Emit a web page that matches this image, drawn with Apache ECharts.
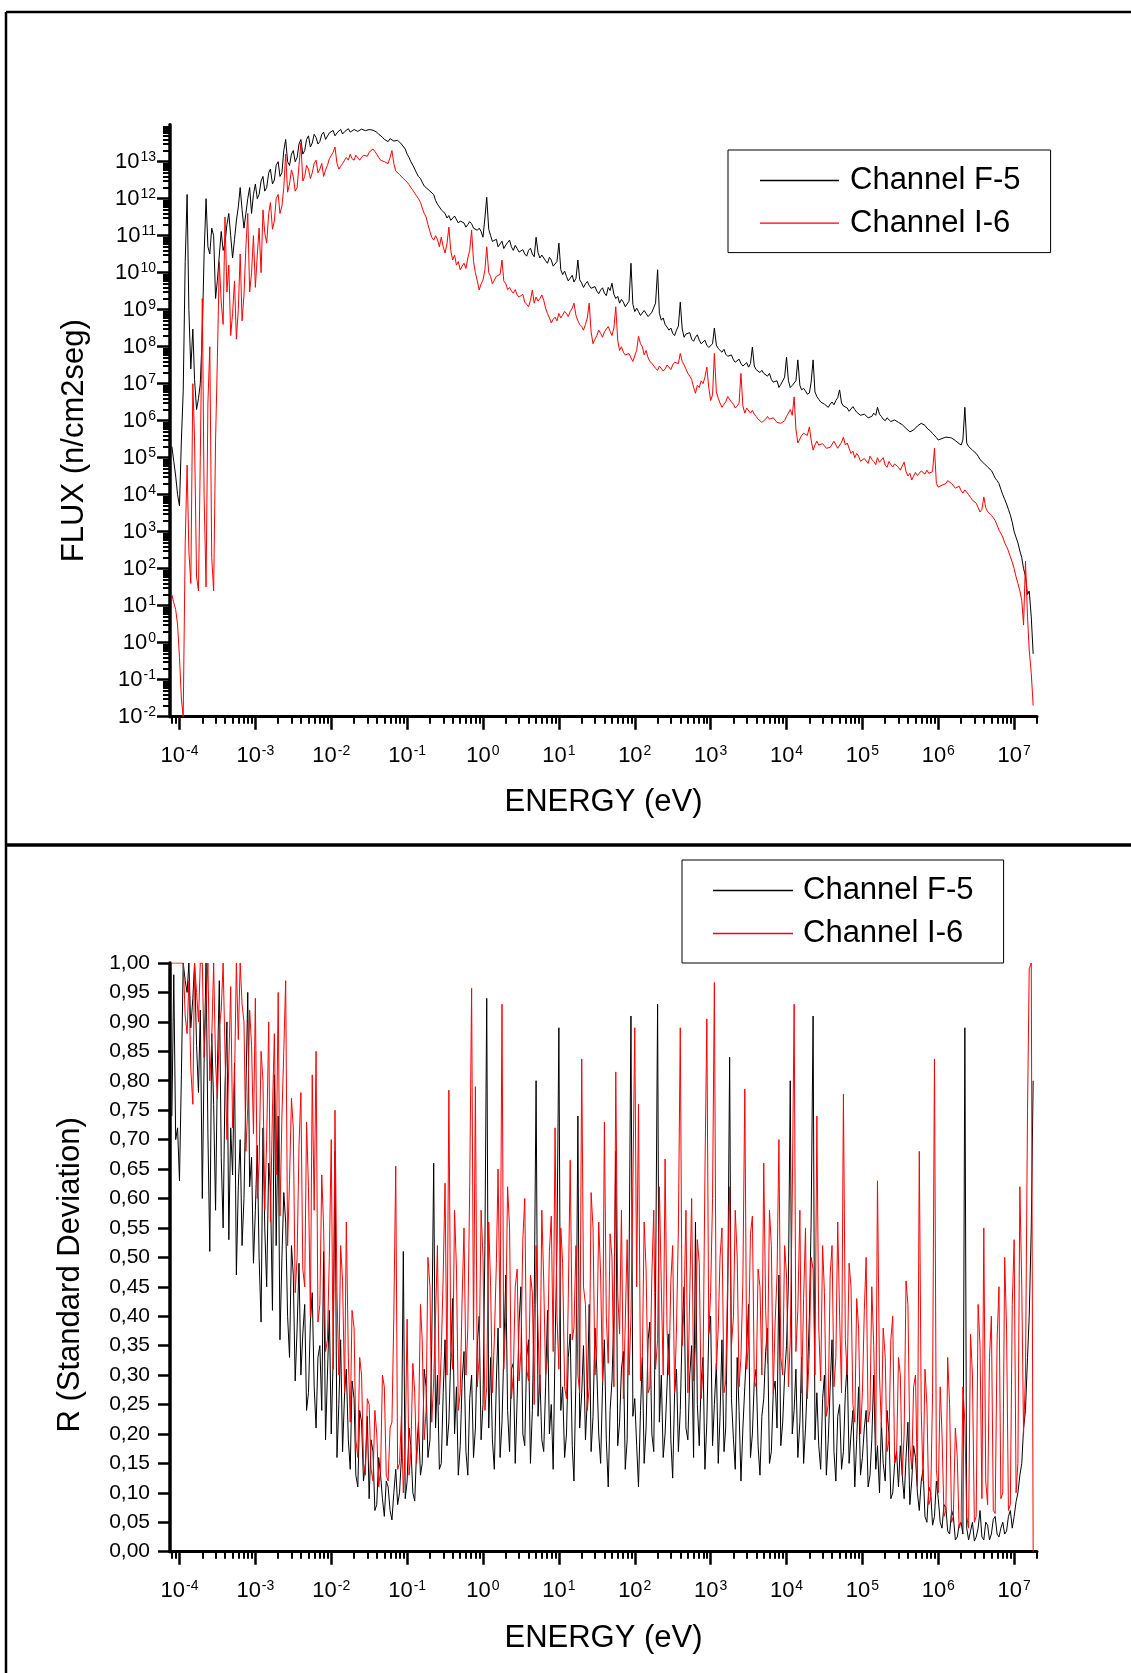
<!DOCTYPE html>
<html>
<head>
<meta charset="utf-8">
<script src="https://cdn.jsdelivr.net/npm/echarts@6/dist/echarts.min.js"></script>
<style>
html,body{margin:0;padding:0;background:#ffffff;}
#chart{width:1131px;height:1673px;}
</style>
</head>
<body>
<div id="chart"></div>
<script>
// ---------------- DATA ----------------
const seriesNames = ['Channel F-5', 'Channel I-6'];

// Energy grid (eV), shared by both panels
const energyEV = [
  7.94e-5,8.41e-5,8.91e-5,9.44e-5,
  1e-4,1.06e-4,1.12e-4,1.19e-4,1.26e-4,1.33e-4,1.41e-4,1.5e-4,1.58e-4,1.68e-4,1.78e-4,1.88e-4,2e-4,2.11e-4,2.24e-4,2.37e-4,2.51e-4,2.66e-4,2.82e-4,2.99e-4,3.16e-4,3.35e-4,3.55e-4,3.76e-4,3.98e-4,4.22e-4,4.47e-4,4.73e-4,5.01e-4,5.31e-4,5.62e-4,5.96e-4,6.31e-4,6.68e-4,7.08e-4,7.5e-4,7.94e-4,8.41e-4,8.91e-4,9.44e-4,
  1e-3,1.06e-3,1.12e-3,1.19e-3,1.26e-3,1.33e-3,1.41e-3,1.5e-3,1.58e-3,1.68e-3,1.78e-3,1.88e-3,2e-3,2.11e-3,2.24e-3,2.37e-3,2.51e-3,2.66e-3,2.82e-3,2.99e-3,3.16e-3,3.35e-3,3.55e-3,3.76e-3,3.98e-3,4.22e-3,4.47e-3,4.73e-3,5.01e-3,5.31e-3,5.62e-3,5.96e-3,6.31e-3,6.68e-3,7.08e-3,7.5e-3,7.94e-3,8.41e-3,8.91e-3,9.44e-3,
  1e-2,1.06e-2,1.12e-2,1.19e-2,1.26e-2,1.33e-2,1.41e-2,1.5e-2,1.58e-2,1.68e-2,1.78e-2,1.88e-2,2e-2,2.11e-2,2.24e-2,2.37e-2,2.51e-2,2.66e-2,2.82e-2,2.99e-2,3.16e-2,3.35e-2,3.55e-2,3.76e-2,3.98e-2,4.22e-2,4.47e-2,4.73e-2,5.01e-2,5.31e-2,5.62e-2,5.96e-2,6.31e-2,6.68e-2,7.08e-2,7.5e-2,7.94e-2,8.41e-2,8.91e-2,9.44e-2,
  1e-1,1.06e-1,1.12e-1,1.19e-1,1.26e-1,1.33e-1,1.41e-1,1.5e-1,1.58e-1,1.68e-1,1.78e-1,1.88e-1,2e-1,2.11e-1,2.24e-1,2.37e-1,2.51e-1,2.66e-1,2.82e-1,2.99e-1,3.16e-1,3.35e-1,3.55e-1,3.76e-1,3.98e-1,4.22e-1,4.47e-1,4.73e-1,5.01e-1,5.31e-1,5.62e-1,5.96e-1,6.31e-1,6.68e-1,7.08e-1,7.5e-1,7.94e-1,8.41e-1,8.91e-1,9.44e-1,
  1,1.06,1.12,1.19,1.26,1.33,1.41,1.5,1.58,1.68,1.78,1.88,2,2.11,2.24,2.37,2.51,2.66,2.82,2.99,3.16,3.35,3.55,3.76,3.98,4.22,4.47,4.73,5.01,5.31,5.62,5.96,6.31,6.68,7.08,7.5,7.94,8.41,8.91,9.44,
  1e1,1.06e1,1.12e1,1.19e1,1.26e1,1.33e1,1.41e1,1.5e1,1.58e1,1.68e1,1.78e1,1.88e1,2e1,2.11e1,2.24e1,2.37e1,2.51e1,2.66e1,2.82e1,2.99e1,3.16e1,3.35e1,3.55e1,3.76e1,3.98e1,4.22e1,4.47e1,4.73e1,5.01e1,5.31e1,5.62e1,5.96e1,6.31e1,6.68e1,7.08e1,7.5e1,7.94e1,8.41e1,8.91e1,9.44e1,
  1e2,1.06e2,1.12e2,1.19e2,1.26e2,1.33e2,1.41e2,1.5e2,1.58e2,1.68e2,1.78e2,1.88e2,2e2,2.11e2,2.24e2,2.37e2,2.51e2,2.66e2,2.82e2,2.99e2,3.16e2,3.35e2,3.55e2,3.76e2,3.98e2,4.22e2,4.47e2,4.73e2,5.01e2,5.31e2,5.62e2,5.96e2,6.31e2,6.68e2,7.08e2,7.5e2,7.94e2,8.41e2,8.91e2,9.44e2,
  1e3,1.06e3,1.12e3,1.19e3,1.26e3,1.33e3,1.41e3,1.5e3,1.58e3,1.68e3,1.78e3,1.88e3,2e3,2.11e3,2.24e3,2.37e3,2.51e3,2.66e3,2.82e3,2.99e3,3.16e3,3.35e3,3.55e3,3.76e3,3.98e3,4.22e3,4.47e3,4.73e3,5.01e3,5.31e3,5.62e3,5.96e3,6.31e3,6.68e3,7.08e3,7.5e3,7.94e3,8.41e3,8.91e3,9.44e3,
  1e4,1.06e4,1.12e4,1.19e4,1.26e4,1.33e4,1.41e4,1.5e4,1.58e4,1.68e4,1.78e4,1.88e4,2e4,2.11e4,2.24e4,2.37e4,2.51e4,2.66e4,2.82e4,2.99e4,3.16e4,3.35e4,3.55e4,3.76e4,3.98e4,4.22e4,4.47e4,4.73e4,5.01e4,5.31e4,5.62e4,5.96e4,6.31e4,6.68e4,7.08e4,7.5e4,7.94e4,8.41e4,8.91e4,9.44e4,
  1e5,1.06e5,1.12e5,1.19e5,1.26e5,1.33e5,1.41e5,1.5e5,1.58e5,1.68e5,1.78e5,1.88e5,2e5,2.11e5,2.24e5,2.37e5,2.51e5,2.66e5,2.82e5,2.99e5,3.16e5,3.35e5,3.55e5,3.76e5,3.98e5,4.22e5,4.47e5,4.73e5,5.01e5,5.31e5,5.62e5,5.96e5,6.31e5,6.68e5,7.08e5,7.5e5,7.94e5,8.41e5,8.91e5,9.44e5,
  1e6,1.06e6,1.12e6,1.19e6,1.26e6,1.33e6,1.41e6,1.5e6,1.58e6,1.68e6,1.78e6,1.88e6,2e6,2.11e6,2.24e6,2.37e6,2.51e6,2.66e6,2.82e6,2.99e6,3.16e6,3.35e6,3.55e6,3.76e6,3.98e6,4.22e6,4.47e6,4.73e6,5.01e6,5.31e6,5.62e6,5.96e6,6.31e6,6.68e6,7.08e6,7.5e6,7.94e6,8.41e6,8.91e6,9.44e6,
  1e7,1.06e7,1.12e7,1.19e7,1.26e7,1.33e7,1.41e7,1.5e7,1.58e7,1.68e7,1.78e7
];

// Top chart: flux (n/cm2seg)
const fluxF5 = [
  2e5,8e4,3.2e4,1e4,
  5e3,3e5,6.3e6,2e10,1.3e12,1e9,2.5e7,3e8,1.3e7,2e6,4e6,1e7,2.5e8,3e10,1e12,5e10,3.2e10,1.6e11,1e11,2e9,6.3e9,3e10,1.3e11,4e10,6.3e10,2e11,4e11,1e11,2.5e10,8e10,2.5e11,6e11,2e12,5e11,1.6e11,4e11,1e12,2e12,4e11,1.3e12,
  2.5e12,1e12,1.3e12,3e12,4e12,1.6e12,2e12,5e12,6.3e12,2.5e12,3.2e12,8e12,1e13,4e12,5e12,2e13,4e13,1e13,7.9e12,1.6e13,2e13,1e13,1.3e13,3e13,4e13,1.6e13,2e13,4e13,5e13,2.5e13,3.2e13,5.5e13,4.5e13,3e13,3.5e13,5.5e13,6.3e13,4e13,4.5e13,6e13,
  6.3e13,7e13,5e13,6e13,6.6e13,7.5e13,5.6e13,6.5e13,7.1e13,7.8e13,6.3e13,7e13,7.4e13,8e13,6.6e13,7.2e13,7.6e13,7.9e13,6.9e13,7.7e13,7.4e13,8e13,7.1e13,7.6e13,6.3e13,5.5e13,5e13,4.6e13,4e13,3.6e13,3.5e13,4.2e13,4e13,3.6e13,3.2e13,3.8e13,3.5e13,3e13,2.8e13,2.2e13,
  1.6e13,1.3e13,1e13,8e12,6.3e12,5e12,4e12,3.5e12,2.8e12,2.2e12,2e12,1.8e12,1.6e12,1.5e12,1.3e12,9e11,7.1e11,6e11,5e11,4.6e11,4e11,3e11,3.5e11,2.6e11,2.8e11,3.4e11,3.2e11,2.2e11,2.5e11,2.8e11,2.2e11,1.7e11,2e11,2.4e11,2.1e11,1.6e11,1.8e11,1.4e11,1.6e11,1.3e11,
  9.1e10,3e11,1.1e12,1.5e11,1e11,7e10,6.3e10,8e10,5e10,6e10,7.1e10,4.5e10,5.6e10,6.5e10,7.6e10,5e10,4e10,5.5e10,4.5e10,3.6e10,3.5e10,4.2e10,3.2e10,2.8e10,4e10,4.6e10,3.2e10,2.7e10,9.1e10,3.5e10,2.5e10,3e10,2.5e10,2.1e10,1.8e10,2.6e10,2.2e10,1.5e10,1.6e10,2e10,
  6.3e10,1.2e10,8.9e9,1.1e10,7.9e9,6e9,7.1e9,8.5e9,5.6e9,7e9,2.2e10,6.5e9,5.2e9,4e9,5e9,5.8e9,4.5e9,3.8e9,3.5e9,4.2e9,3.2e9,2.7e9,3.4e9,3.9e9,2.8e9,2.4e9,4e9,3.3e9,5.2e9,2.6e9,2e9,2.3e9,1.5e9,1.9e9,1.6e9,1.2e9,1.3e9,1.7e9,1.8e10,1.4e9,
  8.9e8,1.1e9,8.9e8,7e8,7.9e8,9.5e8,7.9e8,6.5e8,7.1e8,8.5e8,7.9e8,1.5e9,1.2e10,8e8,5.2e8,6e8,4e8,3.4e8,2.8e8,3.2e8,2.3e8,2e8,2.8e8,3.6e8,1.6e9,3e8,1.8e8,2.2e8,2e8,2.4e8,1.6e8,1.4e8,1.8e8,2.1e8,1.5e8,1.2e8,1.3e8,1.5e8,1.1e8,9.5e7,
  1e8,1.2e8,3.2e8,1.1e8,8.9e7,8e7,7.1e7,8.5e7,6.3e7,5.5e7,5e7,6e7,4.4e7,3.8e7,4e7,4.6e7,3.5e7,3e7,3.2e7,3.7e7,2.8e7,3.5e7,9.8e7,3e7,2.4e7,2.7e7,2e7,2.3e7,1.9e7,1.7e7,1.6e7,1.9e7,1.3e7,1.1e7,1e7,1.2e7,7.9e6,9.5e6,8.9e6,1.5e7,
  5.2e7,1.2e7,7.9e6,9e6,8.9e6,1.2e7,4.4e7,9e6,6.8e6,7.5e6,6.3e6,5.2e6,5.6e6,1.1e7,4.4e7,6e6,4.5e6,3.8e6,3.2e6,3.6e6,2.8e6,2.5e6,2.3e6,2.8e6,3.2e6,2.7e6,3.5e6,4.2e6,6.8e6,3e6,2.5e6,2.8e6,2.2e6,1.8e6,1.9e6,2.4e6,2e6,1.7e6,1.6e6,1.4e6,
  1.3e6,1.5e6,1.4e6,1.2e6,1.1e6,1.3e6,1.6e6,1.4e6,2.3e6,1.5e6,1.3e6,1.1e6,1e6,1.2e6,1.1e6,9.5e5,8.9e5,1.05e6,1e6,9e5,8.5e5,7.8e5,7.1e5,6.2e5,5.6e5,5e5,4.9e5,5.6e5,6.3e5,7.2e5,7.9e5,8.5e5,9.1e5,7.5e5,6.3e5,5.8e5,5.2e5,4.5e5,4e5,3.5e5,
  3e5,3.2e5,3.3e5,3.5e5,3.6e5,3.3e5,3.5e5,3.4e5,3.2e5,2.9e5,2.6e5,2.4e5,2.2e5,3e5,2.3e6,2.5e5,2e5,1.8e5,1.6e5,1.45e5,1.3e5,1.1e5,8.9e4,8e4,7.1e4,6.3e4,5.6e4,5e4,4.5e4,3.6e4,2.8e4,2.4e4,2e4,1.4e4,1e4,7.5e3,5.6e3,4e3,2.8e3,1.8e3,
  1e3,700,500,300,200,100,63,20,25,5,0.5
];
const fluxI6 = [
  20,12,7.9,3,
  0.4,0.03,0.01,500,6.3e4,300,40,1e7,3.2e5,60,25,1e5,2e9,1e4,32,3e6,1e8,200,25,3e5,5e7,2e10,1.6e9,4e8,3.2e11,3e9,1.6e10,2e8,7.9e8,6e9,1.6e8,1e9,3.2e10,5e8,2.5e9,5e10,4e11,3e9,1e10,1e11,
  4e9,3e10,1.6e11,1e10,5e11,1.2e11,6.3e10,4e11,7.9e11,1.5e11,2.5e11,1e12,1.3e12,4e11,6.3e11,2e12,1.6e13,1.5e12,2.5e12,6e12,4e12,1.6e12,2e12,8e12,3.2e13,3e12,4e12,8e12,6.3e12,3.5e12,5e12,9e12,1.1e13,5e12,6.3e12,9e12,4e12,6e12,7.9e12,1.2e13,
  1.3e13,1.8e13,2.5e13,9e12,6.3e12,7.5e12,8.9e12,1.1e13,1.3e13,1.1e13,1.6e13,1.2e13,1.1e13,1.5e13,1.4e13,1.1e13,1.3e13,1.5e13,1.6e13,1.4e13,1.8e13,2e13,2.2e13,1.9e13,1.6e13,1.3e13,1.1e13,1.2e13,1e13,1.1e13,8.9e12,1.3e13,2e13,9e12,5.6e12,5e12,4.5e12,4e12,3.5e12,3.2e12,
  2.8e12,2.4e12,2e12,1.7e12,1.4e12,1.2e12,1e12,8e11,5.6e11,4e11,3.2e11,2e11,1.3e11,9e10,7.6e10,1e11,7.9e10,5e10,9.1e10,5e10,3.4e10,6e10,1.7e11,4e10,2.2e10,3e10,1.6e10,2e10,1.2e10,1.5e10,1.8e10,1.3e10,2.5e10,4e10,1.4e11,2e10,1e10,6e9,3.4e9,5e9,
  6.3e9,1.2e10,5e10,1e10,7.9e9,5e9,5.2e9,8e9,7.1e9,9e9,2.2e10,6e9,5e9,3.5e9,4e9,3.2e9,2.8e9,3.5e9,2.5e9,2.2e9,2e9,2.6e9,1.6e9,1.4e9,1.2e9,1.8e9,3.4e9,1.5e9,2.2e9,1.7e9,2e9,2.5e9,1.8e9,1.1e9,7.9e8,6e8,4.4e8,5.5e8,6.3e8,5e8,
  7.9e8,6e8,7.1e8,9e8,7.9e8,6.5e8,8.9e8,1.1e9,1.5e9,7e8,5e8,4e8,3.5e8,2.8e8,4e8,6e8,1.5e9,2.5e8,1.2e8,1.6e8,2e8,2.8e8,2.3e8,1.8e8,2.5e8,3e8,3.5e8,2.6e8,2e8,3.2e8,1.2e9,1.5e8,7.9e7,1e8,7.1e7,6e7,5.6e7,6.5e7,5e7,4e7,
  4.4e7,8e7,1.9e8,1.2e8,1e8,6e7,7.9e7,5e7,4e7,3.6e7,3.2e7,2.6e7,2.3e7,3e7,2.8e7,2.2e7,2.5e7,3.2e7,2.8e7,2.4e7,3.2e7,3.8e7,4e7,3.5e7,6.6e7,4e7,3.2e7,2.5e7,1.9e7,1.6e7,1.3e7,8e6,5.5e6,9e6,7.9e6,1.2e7,1e7,1.5e7,2.8e7,8e6,
  3.5e6,5e6,6.6e7,6e6,4e6,3e6,2.3e6,2.8e6,3.2e6,4.5e6,4e6,3.2e6,2.8e6,2.2e6,2.5e6,3e6,1.9e7,2.5e6,1.6e6,2.2e6,2e6,1.6e6,1.9e6,1.5e6,1.3e6,1.1e6,1e6,9e5,8.5e5,1.1e6,1.3e6,1.1e6,1e6,1.2e6,1.1e6,9e5,1e6,8.5e5,7.9e5,1e6,
  1.3e6,1.6e6,2e6,1.4e6,4.4e6,6e5,2.5e5,3.2e5,4e5,4.6e5,5e5,4e5,6.8e5,3e5,1.6e5,2.2e5,2.8e5,2.2e5,2e5,2.4e5,2.2e5,1.8e5,1.6e5,1.9e5,2e5,2.8e5,2.5e5,1.8e5,2e5,2.6e5,3.6e5,2.2e5,2.5e5,1.8e5,1.3e5,1.5e5,1e5,1.3e5,1.1e5,8e4,
  7.1e4,9.5e4,8.9e4,7e4,1.1e5,9e4,7.9e4,6.5e4,1e5,7.5e4,8.7e4,1e5,6.3e4,5.5e4,7.9e4,6.5e4,5.6e4,6.8e4,7.1e4,5.5e4,4.6e4,6e4,7.6e4,4.2e4,3.2e4,3.8e4,2.5e4,3.2e4,4e4,3.3e4,3.5e4,4.4e4,4.2e4,3.6e4,4.6e4,3.8e4,3.5e4,4.2e4,1.8e5,2e4,
  1.6e4,1.7e4,1.8e4,1.6e4,2e4,2.4e4,2.2e4,2e4,1.8e4,1.5e4,1.6e4,1.7e4,1.3e4,1.1e4,1.35e4,1.2e4,1e4,8.5e3,7.1e3,6.5e3,5.9e3,4.5e3,3.4e3,4e3,8.7e3,4.5e3,3.5e3,3.2e3,2.8e3,2.4e3,2e3,1.5e3,1.1e3,900,720,500,400,300,210,150,
  100,60,40,25,14,3,160,5,0.63,0.15,0.02
];

// Bottom chart: R (standard deviation)
const rF5 = [
  0.74,0.98,0.70,0.72,
  0.63,0.81,1.0,0.97,0.95,1.0,0.89,0.94,1.0,0.86,0.78,0.92,0.60,0.83,1.0,0.71,0.51,0.88,0.76,0.58,0.82,0.97,0.67,0.55,0.79,0.90,0.53,0.72,0.64,0.83,0.47,0.62,0.70,0.52,0.60,0.78,0.95,0.62,0.67,0.49,
  0.58,0.69,0.50,0.39,0.72,0.55,0.45,0.66,0.62,0.41,0.81,0.52,0.74,0.36,0.50,0.61,0.56,0.40,0.33,0.52,0.47,0.29,0.38,0.49,0.30,0.37,0.42,0.24,0.27,0.39,0.44,0.28,0.21,0.33,0.35,0.24,0.51,0.19,0.30,0.41,
  0.20,0.33,0.68,0.16,0.25,0.36,0.17,0.27,0.31,0.19,0.14,0.29,0.26,0.13,0.11,0.24,0.22,0.12,0.15,0.23,0.09,0.19,0.17,0.07,0.08,0.16,0.13,0.09,0.06,0.12,0.11,0.07,0.054,0.10,0.14,0.08,0.10,0.16,0.51,0.09,
  0.12,0.21,0.18,0.10,0.086,0.17,0.22,0.13,0.15,0.31,0.28,0.16,0.19,0.35,0.66,0.21,0.30,0.14,0.15,0.27,0.36,0.18,0.22,0.33,0.43,0.20,0.28,0.13,0.18,0.29,0.34,0.17,0.13,0.26,0.30,0.16,0.21,0.35,0.40,0.19,
  0.25,0.52,0.94,0.21,0.33,0.19,0.14,0.29,0.38,0.16,0.22,0.34,0.47,0.24,0.17,0.31,0.32,0.15,0.26,0.39,0.45,0.20,0.18,0.33,0.36,0.15,0.24,0.42,0.80,0.23,0.30,0.19,0.17,0.28,0.41,0.20,0.25,0.14,0.35,0.52,
  0.89,0.24,0.28,0.16,0.20,0.33,0.37,0.18,0.12,0.30,0.74,0.21,0.27,0.35,0.19,0.26,0.42,0.17,0.23,0.38,0.31,0.20,0.15,0.28,0.36,0.19,0.11,0.24,0.29,0.40,0.68,0.18,0.22,0.31,0.34,0.14,0.19,0.48,0.91,0.23,
  0.26,0.18,0.11,0.24,0.33,0.15,0.21,0.36,0.39,0.20,0.17,0.44,0.93,0.22,0.30,0.16,0.20,0.28,0.37,0.19,0.125,0.27,0.31,0.17,0.24,0.38,0.45,0.21,0.19,0.30,0.35,0.16,0.56,0.25,0.18,0.29,0.33,0.14,0.22,0.37,
  0.40,0.18,0.25,0.32,0.15,0.23,0.36,0.17,0.21,0.44,0.84,0.26,0.19,0.14,0.33,0.24,0.12,0.21,0.28,0.35,0.42,0.16,0.20,0.29,0.31,0.18,0.13,0.23,0.26,0.34,0.38,0.15,0.17,0.27,0.29,0.21,0.47,0.18,0.22,0.30,
  0.35,0.46,0.80,0.20,0.24,0.31,0.16,0.22,0.33,0.15,0.21,0.29,0.40,0.56,0.91,0.19,0.27,0.18,0.14,0.26,0.30,0.13,0.19,0.28,0.36,0.17,0.12,0.23,0.25,0.14,0.17,0.27,0.32,0.15,0.20,0.24,0.11,0.19,0.28,0.13,
  0.16,0.21,0.24,0.11,0.13,0.19,0.30,0.14,0.18,0.10,0.22,0.15,0.12,0.24,0.20,0.09,0.10,0.15,0.17,0.11,0.18,0.13,0.09,0.16,0.22,0.08,0.12,0.18,0.16,0.10,0.07,0.12,0.14,0.06,0.05,0.11,0.10,0.045,0.06,0.12,
  0.09,0.05,0.04,0.08,0.075,0.035,0.03,0.07,0.06,0.02,0.025,0.045,0.05,0.03,0.89,0.04,0.02,0.035,0.05,0.018,0.025,0.04,0.07,0.025,0.02,0.05,0.045,0.02,0.03,0.055,0.06,0.03,0.025,0.04,0.05,0.03,0.035,0.06,0.07,0.04,
  0.06,0.085,0.10,0.13,0.15,0.21,0.24,0.33,0.40,0.55,0.80
];
const rI6 = [
  1.0,1.0,1.0,1.0,
  1.0,1.0,1.0,0.91,0.88,0.97,0.82,0.76,1.0,0.95,0.90,1.0,1.0,0.84,0.93,1.0,0.80,0.87,1.0,0.83,0.77,0.89,0.92,1.0,0.85,0.70,0.83,0.96,0.72,0.80,1.0,0.87,1.0,0.93,0.90,0.68,0.755,0.92,0.86,0.71,
  0.94,0.60,0.66,0.85,0.80,0.58,0.70,0.90,0.56,0.75,0.88,0.64,0.95,0.57,0.74,0.85,0.97,0.52,0.63,0.77,0.72,0.44,0.50,0.69,0.78,0.48,0.45,0.73,0.62,0.40,0.81,0.58,0.85,0.39,0.42,0.64,0.55,0.34,0.36,0.50,
  0.70,0.31,0.75,0.44,0.30,0.52,0.46,0.27,0.56,0.33,0.22,0.41,0.38,0.19,0.16,0.33,0.30,0.15,0.13,0.26,0.25,0.14,0.12,0.24,0.20,0.11,0.14,0.30,0.28,0.13,0.12,0.21,0.22,0.40,0.655,0.14,0.15,0.23,0.10,0.18,
  0.395,0.13,0.17,0.32,0.27,0.15,0.20,0.42,0.36,0.19,0.24,0.50,0.45,0.22,0.29,0.40,0.52,0.25,0.34,0.47,0.626,0.30,0.784,0.35,0.31,0.58,0.48,0.24,0.27,0.43,0.55,0.30,0.38,0.62,0.957,0.36,0.79,0.28,0.33,0.58,
  0.50,0.24,0.28,0.56,0.45,0.27,0.36,0.49,0.65,0.38,0.93,0.31,0.40,0.62,0.55,0.26,0.30,0.45,0.48,0.29,0.34,0.53,0.60,0.31,0.29,0.47,0.44,0.25,0.52,0.38,0.27,0.58,0.46,0.30,0.33,0.51,0.57,0.34,0.72,0.40,
  0.31,0.55,0.49,0.28,0.26,0.43,0.665,0.36,0.38,0.52,0.30,0.27,0.837,0.45,0.42,0.24,0.28,0.61,0.55,0.30,0.35,0.56,0.47,0.29,0.73,0.40,0.32,0.54,0.50,0.28,0.815,0.44,0.37,0.58,0.26,0.39,0.53,0.30,0.40,0.62,
  0.89,0.45,0.76,0.29,0.33,0.56,0.48,0.27,0.28,0.47,0.58,0.31,0.36,0.62,0.45,0.30,0.667,0.38,0.30,0.46,0.52,0.27,0.38,0.55,0.89,0.35,0.42,0.58,0.27,0.44,0.60,0.29,0.35,0.53,0.49,0.26,0.31,0.64,0.905,0.37,
  0.44,0.60,0.967,0.31,0.38,0.50,0.55,0.27,0.29,0.47,0.62,0.35,0.40,0.58,0.50,0.28,0.33,0.46,0.786,0.31,0.36,0.54,0.57,0.29,0.28,0.48,0.45,0.30,0.66,0.41,0.32,0.58,0.52,0.27,0.39,0.47,0.70,0.33,0.30,0.52,
  0.47,0.28,0.36,0.60,0.93,0.34,0.41,0.58,0.27,0.43,0.55,0.26,0.34,0.50,0.48,0.30,0.74,0.38,0.29,0.52,0.44,0.23,0.25,0.47,0.52,0.28,0.33,0.56,0.40,0.27,0.777,0.36,0.30,0.49,0.45,0.25,0.22,0.43,0.38,0.20,
  0.27,0.41,0.50,0.22,0.24,0.45,0.35,0.18,0.63,0.30,0.21,0.38,0.33,0.17,0.19,0.36,0.40,0.15,0.16,0.33,0.30,0.13,0.20,0.46,0.42,0.18,0.14,0.28,0.30,0.11,0.68,0.24,0.12,0.31,0.25,0.08,0.09,0.27,0.837,0.14,
  0.10,0.28,0.20,0.06,0.07,0.33,0.25,0.05,0.06,0.21,0.16,0.04,0.05,0.28,0.22,0.06,0.04,0.37,0.30,0.05,0.06,0.42,0.35,0.09,0.55,0.12,0.08,0.33,0.40,0.07,0.065,0.36,0.45,0.09,0.10,0.50,0.38,0.07,0.08,0.42,
  0.53,0.10,0.15,0.62,0.45,0.20,0.30,0.75,0.99,1.0,0.0
];

// Tick labels
const energyTickValues = [1e-4,1e-3,1e-2,1e-1,1,1e1,1e2,1e3,1e4,1e5,1e6,1e7];
const energyTickExp = ['-4','-3','-2','-1','0','1','2','3','4','5','6','7'];
const fluxTickValues = [1e-2,1e-1,1,1e1,1e2,1e3,1e4,1e5,1e6,1e7,1e8,1e9,1e10,1e11,1e12,1e13];
const fluxTickExp = ['-2','-1','0','1','2','3','4','5','6','7','8','9','10','11','12','13'];
const rTickLabels = ['0,00','0,05','0,10','0,15','0,20','0,25','0,30','0,35','0,40','0,45','0,50',
                     '0,55','0,60','0,65','0,70','0,75','0,80','0,85','0,90','0,95','1,00'];

// ---------------- BUILD ----------------
const FONT = 'Liberation Sans, Arial, sans-serif';
const E_MIN = 7.5e-5, E_MAX = 2e7;
const F_MIN = 1e-2, F_MAX = 1e14;

function minorTicks(lo, hi) {
  const out = [];
  for (let d = lo; d <= hi; d++) for (let m = 2; m <= 9; m++) out.push(Number(m + 'e' + d));
  return out;
}
function pairs(xs, ys) { return xs.map((x, i) => [x, ys[i]]); }
function expFormatter(values, exps) {
  return function (v) {
    const i = values.findIndex(t => Math.abs(t - v) <= t * 1e-6);
    return i < 0 ? '' : '{b|10}{s|' + exps[i] + '}';
  };
}
const supRich = {
  b: { fontSize: 22, lineHeight: 24, fontFamily: FONT, color: '#000' },
  s: { fontSize: 14, lineHeight: 14, verticalAlign: 'top', fontFamily: FONT, color: '#000', padding: [0, 0, 0, 1] }
};
const titleStyle = { fontSize: 31, color: '#000', fontFamily: FONT };

function energyAxes(gridIndex, nameGap) {
  return [
    {
      gridIndex, type: 'log', position: 'bottom', min: E_MIN, max: E_MAX,
      name: 'ENERGY (eV)', nameLocation: 'middle', nameGap, nameTextStyle: titleStyle,
      axisLine: { show: true, lineStyle: { color: '#000', width: 3 } },
      axisTick: { show: true, length: 13, customValues: energyTickValues, lineStyle: { color: '#000', width: 2.5 } },
      axisLabel: { show: true, customValues: energyTickValues, margin: 27, formatter: expFormatter(energyTickValues, energyTickExp), rich: supRich },
      splitLine: { show: false }
    },
    {
      gridIndex, type: 'log', position: 'bottom', min: E_MIN, max: E_MAX,
      axisLine: { show: false },
      axisTick: { show: true, length: 7, customValues: minorTicks(-5, 7), lineStyle: { color: '#000', width: 2 } },
      axisLabel: { show: false },
      splitLine: { show: false }
    }
  ];
}

const legendCommon = {
  data: seriesNames, orient: 'vertical', selectedMode: false, icon: 'rect',
  itemHeight: 1.4, borderColor: '#000', borderWidth: 1, backgroundColor: '#fff'
};

const option = {
  backgroundColor: '#ffffff',
  animation: false,
  textStyle: { fontFamily: FONT },
  grid: [
    { left: 170, top: 124.7, width: 867, height: 592 },
    { left: 170, top: 963, width: 867, height: 588.7 }
  ],
  xAxis: [...energyAxes(0, 70), ...energyAxes(1, 71)],
  yAxis: [
    {
      gridIndex: 0, type: 'log', position: 'left', min: F_MIN, max: F_MAX,
      name: 'FLUX (n/cm2seg)', nameLocation: 'middle', nameGap: 80, nameRotate: 90,
      nameTextStyle: Object.assign({ padding: [0, 40, 0, 0] }, titleStyle),
      axisLine: { show: true, lineStyle: { color: '#000', width: 3.5 } },
      axisTick: { show: true, length: 13, customValues: fluxTickValues, lineStyle: { color: '#000', width: 2.5 } },
      axisLabel: { show: true, customValues: fluxTickValues, margin: 14, formatter: expFormatter(fluxTickValues, fluxTickExp), rich: supRich },
      splitLine: { show: false }
    },
    {
      gridIndex: 0, type: 'log', position: 'left', min: F_MIN, max: F_MAX,
      axisLine: { show: false },
      axisTick: { show: true, length: 7, customValues: minorTicks(-2, 13), lineStyle: { color: '#000', width: 2 } },
      axisLabel: { show: false },
      splitLine: { show: false }
    },
    {
      gridIndex: 1, type: 'value', position: 'left', min: 0, max: 1, interval: 0.05,
      name: 'R (Standard Deviation)', nameLocation: 'middle', nameGap: 84, nameRotate: 90,
      nameTextStyle: Object.assign({ padding: [0, 35, 0, 0] }, titleStyle),
      axisLine: { show: true, lineStyle: { color: '#000', width: 3.5 } },
      axisTick: { show: true, length: 12, lineStyle: { color: '#000', width: 2.5 } },
      axisLabel: { show: true, margin: 20, fontSize: 21, color: '#000', fontFamily: FONT,
        formatter: v => rTickLabels[Math.round(v / 0.05)] },
      splitLine: { show: false }
    }
  ],
  legend: [
    Object.assign({}, legendCommon, {
      left: 728, top: 150, itemWidth: 79, itemGap: 11.6, padding: [15, 30, 14, 32],
      textStyle: { fontSize: 31, color: '#000', fontFamily: FONT, padding: [0, 0, 0, 6] }
    }),
    Object.assign({}, legendCommon, {
      left: 682, top: 860, itemWidth: 80, itemGap: 12, padding: [15, 30, 14, 31],
      textStyle: { fontSize: 31, color: '#000', fontFamily: FONT, padding: [0, 0, 0, 5] }
    })
  ],
  series: [
    { name: seriesNames[0], type: 'line', xAxisIndex: 0, yAxisIndex: 0, data: pairs(energyEV, fluxF5),
      symbol: 'none', showSymbol: false, lineStyle: { color: '#000', width: 1 }, itemStyle: { color: '#000' } },
    { name: seriesNames[1], type: 'line', xAxisIndex: 0, yAxisIndex: 0, data: pairs(energyEV, fluxI6),
      symbol: 'none', showSymbol: false, lineStyle: { color: '#ff0000', width: 1 }, itemStyle: { color: '#ff0000' } },
    { name: seriesNames[0], type: 'line', xAxisIndex: 2, yAxisIndex: 2, data: pairs(energyEV, rF5),
      symbol: 'none', showSymbol: false, lineStyle: { color: '#000', width: 1 }, itemStyle: { color: '#000' } },
    { name: seriesNames[1], type: 'line', xAxisIndex: 2, yAxisIndex: 2, data: pairs(energyEV, rI6),
      symbol: 'none', showSymbol: false, lineStyle: { color: '#ff0000', width: 1 }, itemStyle: { color: '#ff0000' } }
  ],
  graphic: [
    { type: 'line', shape: { x1: 6, y1: 12, x2: 1131, y2: 12 }, style: { stroke: '#000', lineWidth: 2.5 } },
    { type: 'line', shape: { x1: 6, y1: 12, x2: 6, y2: 1673 }, style: { stroke: '#000', lineWidth: 2.5 } },
    { type: 'line', shape: { x1: 6, y1: 845, x2: 1131, y2: 845 }, style: { stroke: '#000', lineWidth: 3.5 } }
  ]
};

const chart = echarts.init(document.getElementById('chart'), null, { renderer: 'canvas' });
chart.setOption(option);
</script>
</body>
</html>
